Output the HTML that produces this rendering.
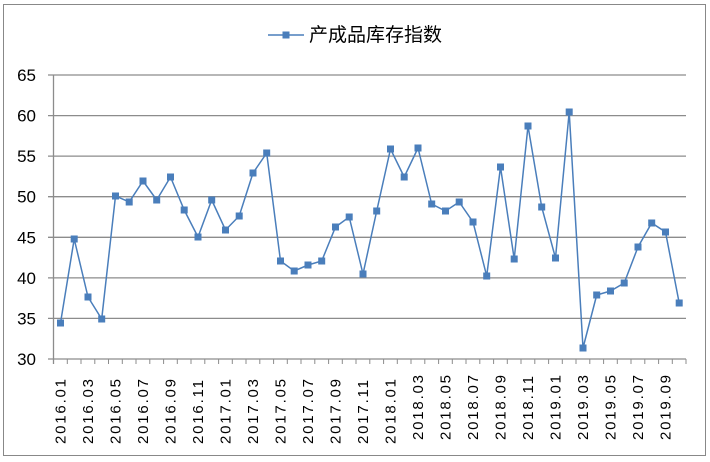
<!DOCTYPE html>
<html><head><meta charset="utf-8"><style>body{margin:0;background:#fff}svg{display:block}</style></head><body>
<svg width="710" height="462" xmlns="http://www.w3.org/2000/svg" font-family="Liberation Sans, 'Noto Sans CJK SC', sans-serif">
<rect x="3.5" y="4.5" width="702" height="451" fill="#fff" stroke="#888" stroke-width="1"/>
<g stroke="#8c8c8c" stroke-width="1.3">
<line x1="48" y1="75" x2="686" y2="75"/><line x1="48" y1="115.6" x2="686" y2="115.6"/><line x1="48" y1="156.1" x2="686" y2="156.1"/><line x1="48" y1="196.7" x2="686" y2="196.7"/><line x1="48" y1="237.3" x2="686" y2="237.3"/><line x1="48" y1="277.9" x2="686" y2="277.9"/><line x1="48" y1="318.4" x2="686" y2="318.4"/><line x1="48" y1="359" x2="686" y2="359"/>
<line x1="53.5" y1="75" x2="53.5" y2="364"/>
</g>
<g stroke="#8c8c8c" stroke-width="1">
<path d="M67.3 359v5M81 359v5M94.8 359v5M108.5 359v5M122.3 359v5M136 359v5M149.8 359v5M163.6 359v5M177.3 359v5M191 359v5M204.8 359v5M218.6 359v5M232.3 359v5M246 359v5M259.8 359v5M273.6 359v5M287.3 359v5M301 359v5M314.8 359v5M328.6 359v5M342.3 359v5M356 359v5M369.8 359v5M383.6 359v5M397.3 359v5M411 359v5M424.8 359v5M438.6 359v5M452.3 359v5M466 359v5M479.8 359v5M493.6 359v5M507.3 359v5M521 359v5M534.8 359v5M548.6 359v5M562.3 359v5M576 359v5M589.8 359v5M603.6 359v5M617.3 359v5M631 359v5M644.8 359v5M658.6 359v5M672.3 359v5M686 359v5"/>
</g>
<g font-size="17" text-anchor="end" fill="#000">
<text x="36" y="81">65</text><text x="36" y="121.6">60</text><text x="36" y="162.1">55</text><text x="36" y="202.7">50</text><text x="36" y="243.3">45</text><text x="36" y="283.9">40</text><text x="36" y="324.4">35</text><text x="36" y="365">30</text>
</g>
<g font-size="15" letter-spacing="1.8" fill="#000">
<text transform="translate(65.5,444) rotate(-90)">2016.01</text>
<text transform="translate(93,444) rotate(-90)">2016.03</text>
<text transform="translate(120.5,444) rotate(-90)">2016.05</text>
<text transform="translate(148,444) rotate(-90)">2016.07</text>
<text transform="translate(175.5,444) rotate(-90)">2016.09</text>
<text transform="translate(203,444) rotate(-90)">2016.11</text>
<text transform="translate(230.5,444) rotate(-90)">2017.01</text>
<text transform="translate(258,444) rotate(-90)">2017.03</text>
<text transform="translate(285.5,444) rotate(-90)">2017.05</text>
<text transform="translate(313,444) rotate(-90)">2017.07</text>
<text transform="translate(340.5,444) rotate(-90)">2017.09</text>
<text transform="translate(368,444) rotate(-90)">2017.11</text>
<text transform="translate(395.5,444) rotate(-90)">2018.01</text>
<text transform="translate(423,440) rotate(-90)">2018.03</text>
<text transform="translate(450.5,440) rotate(-90)">2018.05</text>
<text transform="translate(478,440) rotate(-90)">2018.07</text>
<text transform="translate(505.5,440) rotate(-90)">2018.09</text>
<text transform="translate(533,440) rotate(-90)">2018.11</text>
<text transform="translate(560.5,440) rotate(-90)">2019.01</text>
<text transform="translate(588,440) rotate(-90)">2019.03</text>
<text transform="translate(615.5,440) rotate(-90)">2019.05</text>
<text transform="translate(643,440) rotate(-90)">2019.07</text>
<text transform="translate(670.5,440) rotate(-90)">2019.09</text>
</g>
<defs><marker id="m" markerWidth="8" markerHeight="8" refX="4" refY="4" markerUnits="userSpaceOnUse"><rect x="0.5" y="0.5" width="7" height="7" fill="#4a7ebb"/></marker></defs>
<polyline fill="none" stroke="#4a7ebb" stroke-width="1.5" marker-start="url(#m)" marker-mid="url(#m)" marker-end="url(#m)" points="60.5,323 74.2,239 88,297 101.7,319 115.5,196 129.2,202 143,181 156.7,200 170.5,177 184.2,210 198,237 211.7,200 225.5,230 239.2,216 253,173 266.7,153 280.5,261 294.2,271 308,265 321.7,261 335.5,227 349.2,217 363,274 376.7,211 390.5,149 404.2,177 418,148 431.7,204 445.5,211 459.2,202 473,222 486.7,276 500.5,167 514.2,259 528,126 541.7,207 555.5,258 569.2,112 583,348 596.7,295 610.5,291 624.2,283 638,247 651.7,223 665.5,232 679.2,303"/>
<line x1="268" y1="35" x2="304" y2="35" stroke="#4a7ebb" stroke-width="1.5"/>
<rect x="282.5" y="31.5" width="7" height="7" fill="#4a7ebb"/>
<text x="309" y="41" font-size="19" fill="#000">产成品库存指数</text>
</svg>
</body></html>
